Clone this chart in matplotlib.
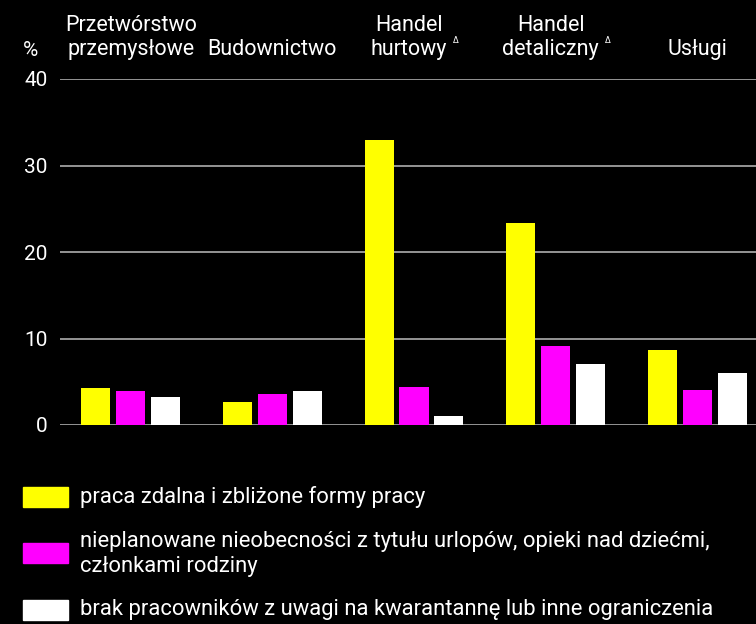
import numpy as np
import matplotlib
matplotlib.use('Agg')
import matplotlib.pyplot as plt
from matplotlib.patches import Rectangle

# dane
kategorie = ['Przetwórstwo\nprzemysłowe', 'Budownictwo', 'Handel\nhurtowy', 'Handel\ndetaliczny', 'Usługi']
z_delta = [False, False, True, True, False]
praca_zdalna = [4.3, 2.7, 32.9, 23.4, 8.7]
nieobecnosci = [3.9, 3.6, 4.4, 9.1, 4.1]
brak_pracownikow = [3.2, 3.9, 1.0, 7.1, 6.0]
serie_nazwy = ['praca zdalna i zbliżone formy pracy',
               'nieplanowane nieobecności z tytułu urlopów, opieki nad dziećmi,\nczłonkami rodziny',
               'brak pracowników z uwagi na kwarantannę lub inne ograniczenia']
kolory = ['#ffff00', '#ff00ff', '#ffffff']
yticks = [0, 10, 20, 30, 40]

plt.rcParams['font.family'] = ['Roboto', 'DejaVu Sans']

W, H = 756, 624
fig = plt.figure(figsize=(W / 100, H / 100), dpi=100, facecolor='black')
ax = fig.add_axes([60 / W, 1 - 425 / H, 1 - 60 / W, (425 - 79) / H])
ax.set_facecolor('black')

x = np.arange(len(kategorie))
w = 0.205
off = 0.247
for i, (vals, c) in enumerate(zip([praca_zdalna, nieobecnosci, brak_pracownikow], kolory)):
    ax.bar(x + (i - 1) * off, vals, w, color=c, zorder=3)

ax.set_xlim(-0.5, -0.5 + 696 / 141.6)
ax.set_ylim(0, 40)
ax.set_yticks(yticks)
ax.set_xticks([])
ax.grid(axis='y', color='#a0a0a0', lw=1.3, zorder=0)
ax.tick_params(axis='y', length=0, pad=9, colors='white', labelsize=15)
for s in ax.spines.values():
    s.set_visible(False)

# etykiety kategorii nad wykresem
fig.canvas.draw()
r = fig.canvas.get_renderer()
for xi, lab, d in zip(x, kategorie, z_delta):
    sx = -5 / 141.6 if d else 0
    t = ax.text(xi + sx, 1.055, lab, transform=ax.get_xaxis_transform(), ha='center', va='bottom',
                color='white', fontsize=15.5)
    if d:
        bb = t.get_window_extent(renderer=r)
        tmp = ax.text(0, 0, lab.split('\n')[-1], fontsize=15.5)
        w2 = tmp.get_window_extent(renderer=r).width
        tmp.remove()
        cx = (bb.x0 + bb.x1) / 2
        fig.text((cx + w2 / 2 + 6) / W, 1 - 45 / H, 'Δ', color='white', fontsize=6,
                 family=['DejaVu Sans'], va='bottom')
fig.text(31 / W, 1 - 51 / H, '%', color='white', fontsize=15, ha='center', va='center')

# legenda
leg_y = [497, 553, 609.5]
txt_y = [497, 554, 609]
for yy, ty, c, n in zip(leg_y, txt_y, kolory, serie_nazwy):
    fig.patches.append(Rectangle((23 / W, 1 - (yy + 10) / H), 45 / W, 20 / H,
                                 transform=fig.transFigure, color=c))
    fig.text(80 / W, 1 - ty / H, n, color='white', fontsize=15.8, va='center')

fig.savefig('out.png', dpi=100, facecolor='black')
